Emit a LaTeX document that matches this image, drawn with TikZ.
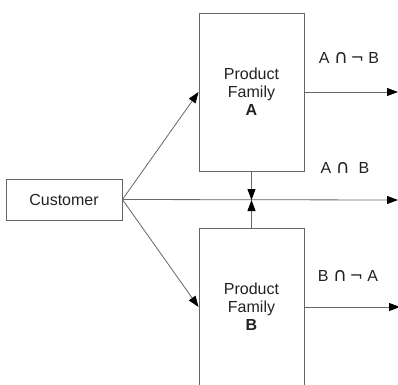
\documentclass[tikz,border=0pt]{standalone}
\usepackage{fontspec}
\setmainfont{Liberation Sans}
\newfontfamily\symfont{DejaVu Sans}
\usetikzlibrary{arrows.meta}
\definecolor{linegray}{HTML}{666666}
\definecolor{textgray}{HTML}{222222}
\newcommand{\capsym}{{\symfont\fontsize{19}{18}\selectfont ∩}}
\newcommand{\negsym}{{\symfont\fontsize{16}{18}\selectfont ¬}}
\tikzset{
  box/.style={draw=linegray, line width=0.9pt, align=center, inner sep=0pt,
    text=textgray, font=\fontsize{16}{18}\selectfont},
  flow/.style={draw=linegray, line width=0.8pt,
    -{Triangle[length=11pt,width=8pt,color=black,fill=black]}},
  setlabel/.style={text=textgray, font=\fontsize{16}{18}\selectfont, inner sep=0pt}
}
\begin{document}
\begin{tikzpicture}[x=1pt,y=-1pt]
  \useasboundingbox (0,0) rectangle (398,384);
  \clip (0,0) rectangle (398,384);

  % boxes
  \node[box, minimum width=116pt, minimum height=41pt] (cust) at (64,199.5) {Customer};
  \node[box, minimum width=105pt, minimum height=158pt] (famA) at (251.5,92) {Product\\Family\\\textbf{A}};
  \node[box, minimum width=105pt, minimum height=158pt] (famB) at (251.5,307) {Product\\Family\\\textbf{B}};

  % free ends of the outgoing arrows
  \coordinate (outA) at (398,92);
  \coordinate (outAB) at (398,200);
  \coordinate (outB) at (400,307);
  \coordinate (meet) at (251.5,200);

  % connectors
  \draw[flow] (cust.east) -- (famA.west);
  \draw[flow] (cust.east) -- (famB.west);
  \draw[flow] (cust.east) -- (outAB);
  \draw[flow] (famA.south) -- (meet);
  \draw[flow] (famB.north) -- (meet);
  \draw[flow] (famA.east) -- (outA);
  \draw[flow] (famB.east) -- (outB);

  % set labels
  \node[setlabel] (lblA) at (349,58) {A \capsym\,\negsym\ B};
  \node[setlabel] (lblAB) at (345,168) {A \capsym\ \ B};
  \node[setlabel] (lblB) at (348,276) {B \capsym\,\negsym\ A};
\end{tikzpicture}
\end{document}
